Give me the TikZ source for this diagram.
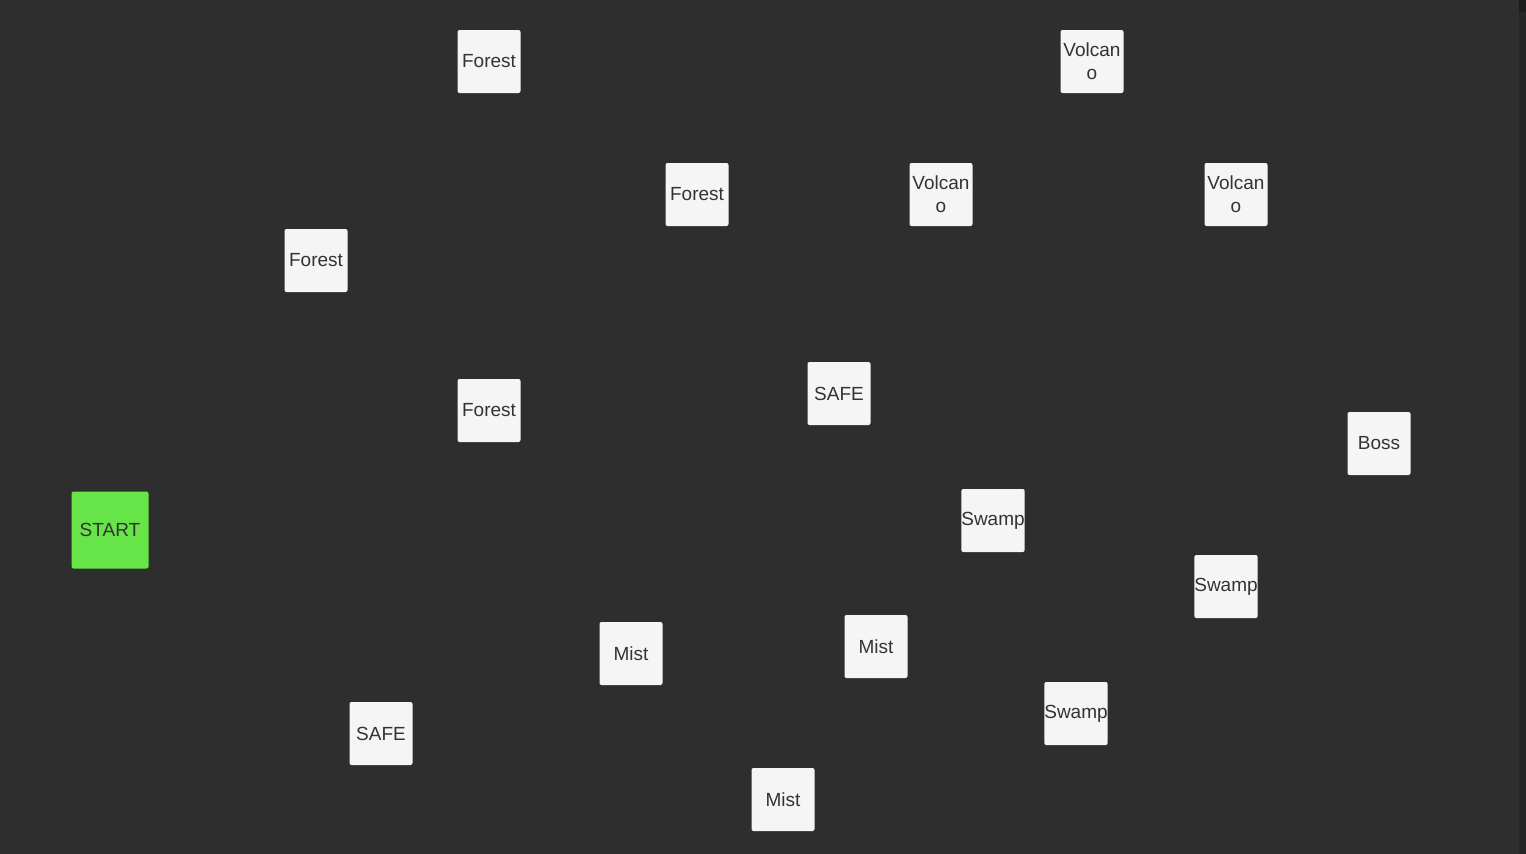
\documentclass[tikz,border=0pt]{standalone}
\usepackage{fontspec}
\setmainfont{Liberation Sans}
\definecolor{bg}{RGB}{46,46,46}
\definecolor{tile}{RGB}{245,245,245}
\definecolor{txt}{RGB}{51,51,51}
\definecolor{startg}{RGB}{103,229,72}
\definecolor{bar}{RGB}{38,38,38}
\definecolor{bartop}{RGB}{28,28,28}
\begin{document}
\begin{tikzpicture}[x=1pt,y=-1pt,
  tilebox/.style={fill=tile,draw=none,rounded corners=2pt,minimum width=63pt,minimum height=63pt,inner sep=0pt,text=txt,font=\fontsize{19}{23}\selectfont,align=center},
  startbox/.style={tilebox,fill=startg,minimum width=77pt,minimum height=77pt}]
\fill[bg] (0,0) rectangle (1526,854);
\useasboundingbox (0,0) rectangle (1526,854);
\fill[bar] (1519,0) rectangle (1526,854);
\fill[bartop] (1519,0) rectangle (1526,12);
\node[tilebox] (f1) at (489,61.5) {Forest};
\node[tilebox] (v1) at (1092,61.5) {Volcan\\o};
\node[tilebox] (f2) at (697,194.5) {Forest};
\node[tilebox] (v2) at (941,194.5) {Volcan\\o};
\node[tilebox] (v3) at (1236,194.5) {Volcan\\o};
\node[tilebox] (f3) at (316,260.5) {Forest};
\node[tilebox] (f4) at (489,410.5) {Forest};
\node[tilebox] (s1) at (839,393.5) {SAFE};
\node[tilebox] (boss) at (1379,443.5) {Boss};
\node[tilebox] (w1) at (993,520.5) {Swamp};
\node[tilebox] (w2) at (1226,586.5) {Swamp};
\node[tilebox] (m1) at (631,653.5) {Mist};
\node[tilebox] (m2) at (876,646.5) {Mist};
\node[tilebox] (w3) at (1076,713.5) {Swamp};
\node[tilebox] (s2) at (381,733.5) {SAFE};
\node[tilebox] (m3) at (783,799.5) {Mist};
\node[startbox] (start) at (110,530) {START};
\end{tikzpicture}
\end{document}
